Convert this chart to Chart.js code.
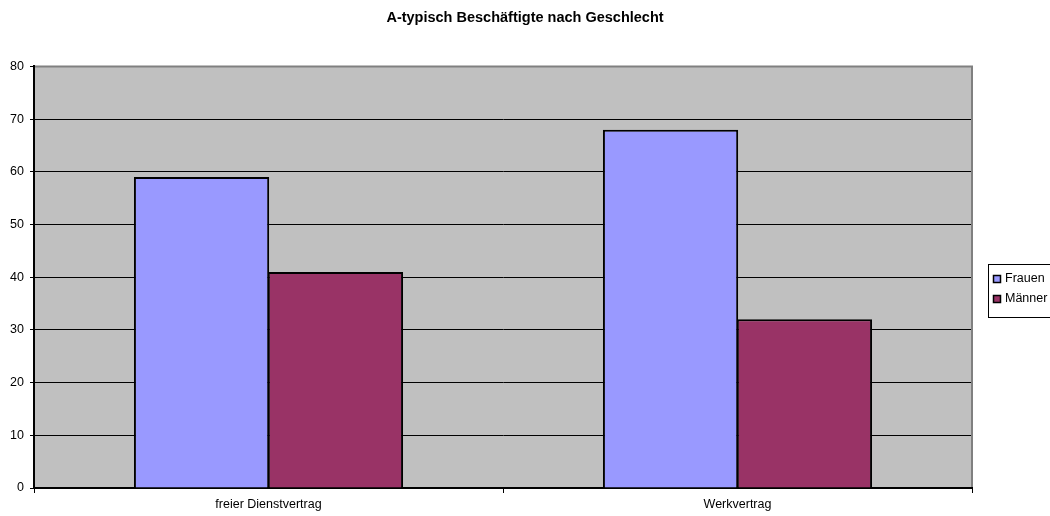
<!DOCTYPE html>
<html>
<head>
<meta charset="utf-8">
<script src="https://cdn.jsdelivr.net/npm/chart.js@4"></script>
<style>
  html, body { margin: 0; padding: 0; background: #fff; }
  #wrap { width: 1050px; height: 516px; }
</style>
</head>
<body>
<div id="wrap"><canvas id="chart"></canvas></div>
<script>
const categories = ["freier Dienstvertrag", "Werkvertrag"];
const frauen = [59, 68];
const maenner = [41, 32];
const seriesNames = ["Frauen", "Männer"];
const yTicks = [0, 10, 20, 30, 40, 50, 60, 70, 80];

Chart.defaults.font.family = "'Liberation Sans', Arial, sans-serif";
Chart.defaults.font.size = 12.5;
Chart.defaults.color = "#000";

// grey plot background, grey top/right frame and the boxed legend
const plotFrame = {
  id: "plotFrame",
  beforeDraw(chart) {
    const { ctx, chartArea: a } = chart;
    ctx.save();
    ctx.fillStyle = "#C0C0C0";
    ctx.fillRect(a.left, a.top, a.right - a.left, a.bottom - a.top);
    ctx.restore();
  },
  afterDraw(chart) {
    const { ctx, chartArea: a } = chart;
    ctx.save();
    ctx.strokeStyle = "#808080";
    ctx.lineWidth = 2;
    ctx.beginPath();
    ctx.moveTo(a.left + 1, a.top);
    ctx.lineTo(a.right, a.top);
    ctx.lineTo(a.right, a.bottom - 1);
    ctx.stroke();

    // legend
    ctx.lineWidth = 1;
    ctx.strokeStyle = "#000";
    ctx.strokeRect(988.5, 264.5, 70, 53);
    chart.data.datasets.forEach((ds, i) => {
      const y = 279 + i * 20;
      ctx.fillStyle = ds.backgroundColor;
      ctx.fillRect(993, y - 4, 8, 8);
      ctx.lineWidth = 1.5;
      ctx.strokeRect(993.5, y - 3.5, 7, 7);
      ctx.fillStyle = "#000";
      ctx.font = "12.5px 'Liberation Sans', Arial, sans-serif";
      ctx.textBaseline = "middle";
      ctx.fillText(ds.label, 1005, y);
    });
    ctx.restore();
  }
};

new Chart(document.getElementById("chart"), {
  type: "bar",
  data: {
    labels: categories,
    datasets: [
      { label: seriesNames[0], data: frauen, backgroundColor: "#9999FF", borderColor: "#000", borderWidth: 2 },
      { label: seriesNames[1], data: maenner, backgroundColor: "#993366", borderColor: "#000", borderWidth: 2 }
    ]
  },
  options: {
    responsive: true,
    maintainAspectRatio: false,
    animation: false,
    layout: { padding: 0 },
    datasets: { bar: { categoryPercentage: 0.571, barPercentage: 1.01 } },
    plugins: {
      legend: { display: false },
      tooltip: { enabled: false },
      title: {
        display: true,
        text: "A-typisch Beschäftigte nach Geschlecht",
        font: { size: 14.5, weight: "bold" },
        color: "#000",
        padding: { top: 9, bottom: 40 }
      }
    },
    scales: {
      x: {
        grid: { offset: true, drawOnChartArea: false, tickLength: 5, color: "#000" },
        border: { color: "#000", width: 2 },
        ticks: { padding: 4, color: "#000" },
        afterFit(scale) { scale.height = 28; }
      },
      y: {
        min: 0,
        max: 80,
        afterBuildTicks(scale) { scale.ticks = yTicks.map(v => ({ value: v })); },
        ticks: { padding: 6, color: "#000" },
        grid: { color: "#000", tickLength: 4, lineWidth: 1 },
        border: { color: "#000", width: 2 },
        afterFit(scale) { scale.width = 34; }
      },
      // empty right-hand strip that leaves room for the legend
      yRight: {
        position: "right",
        min: 0,
        max: 80,
        ticks: { display: false },
        grid: { display: false },
        border: { display: false },
        afterFit(scale) { scale.width = 78; }
      }
    }
  },
  plugins: [plotFrame]
});
</script>
</body>
</html>
